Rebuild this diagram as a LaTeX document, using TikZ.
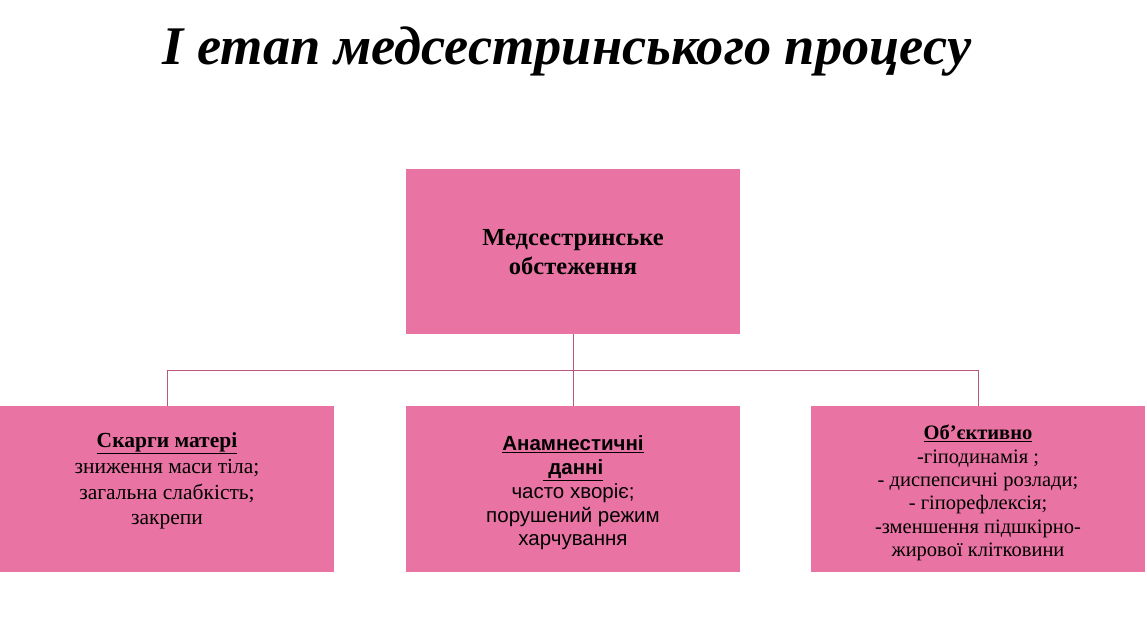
\documentclass[tikz,border=0pt]{standalone}
\usepackage{fontspec}
\setmainfont{Liberation Serif}
\newfontfamily\arialf{Liberation Sans}
\definecolor{boxpink}{RGB}{233,116,163}
\definecolor{linepink}{RGB}{188,88,128}
\begin{document}
\begin{tikzpicture}[x=1pt,y=-1pt,
  box/.style={fill=boxpink,draw=none,inner sep=0pt,minimum width=334pt,minimum height=166pt},
  txt/.style={inner sep=0pt,align=center,text=black},
  conn/.style={draw=linepink,line width=1pt}]
\useasboundingbox (0,0) rectangle (1147,640);
\fill[white] (0,0) rectangle (1147,640);
\node[txt,font=\fontsize{54.4}{60}\selectfont\bfseries\itshape] (title) at (567,51) {І етап медсестринського процесу};
\node[box,minimum height=165pt] (top) at (573,251.5) {};
\node[box] (b1) at (167,489) {};
\node[box] (b2) at (573,489) {};
\node[box] (b3) at (978,489) {};
\node[txt,font=\fontsize{24.5}{29}\selectfont\bfseries] (ttop) at (573,252.5) {Медсестринське\\обстеження};
\node[txt,font=\fontsize{21.5}{25.7}\selectfont] (t1) at (167,481) {\textbf{\underline{Скарги матері}}\\зниження маси тіла;\\загальна слабкість;\\закрепи};
\node[txt,font=\arialf\fontsize{20.5}{23.8}\selectfont] (t2) at (573,493) {\textbf{\underline{Анамнестичні}}\\\textbf{\underline{\ данні}}\\часто хворіє;\\порушений режим\\харчування};
\node[txt,font=\fontsize{20.5}{23.4}\selectfont] (t3) at (978,493) {\textbf{\underline{Об’єктивно}}\\-гіподинамія ;\\- диспепсичні розлади;\\- гіпорефлексія;\\-зменшення підшкірно-\\жирової клітковини};
\coordinate (hub) at (573,370);
\draw[conn] (top.south) -- (hub);
\draw[conn] (b1.north) -- (b1.north |- hub) -- (b3.north |- hub) -- (b3.north);
\draw[conn] (hub) -- (b2.north);
\end{tikzpicture}
\end{document}
